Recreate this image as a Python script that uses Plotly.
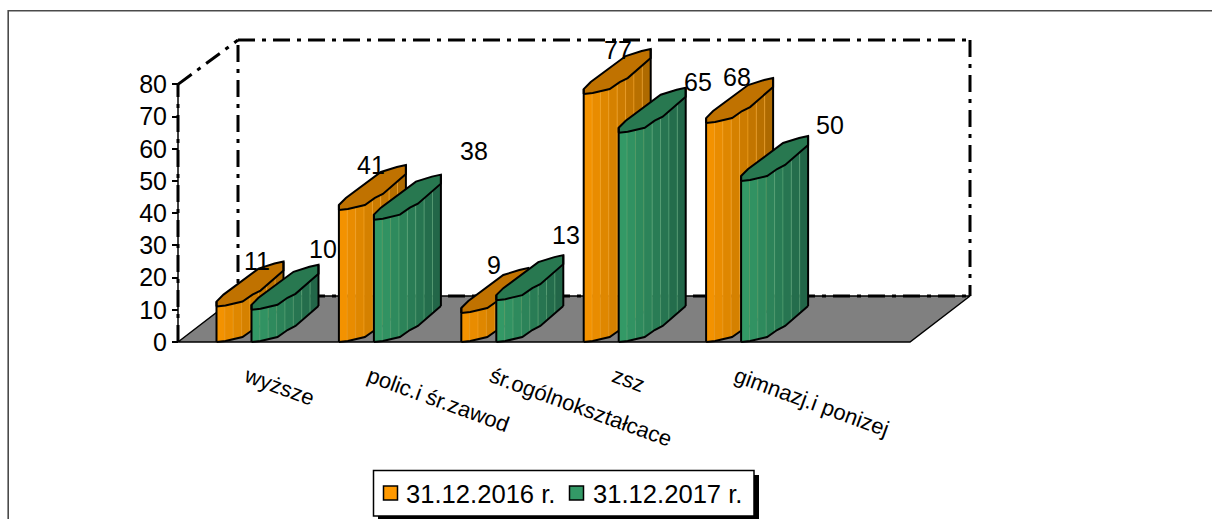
import numpy as np
import plotly.graph_objects as go

categories = ["wyższe", "polic.i śr.zawod", "śr.ogólnokształcace", "zsz", "gimnazj.i ponizej"]
series_names = ["31.12.2016 r.", "31.12.2017 r."]
values_2016 = [11, 41, 9, 77, 68]
values_2017 = [10, 38, 13, 65, 50]
y_ticks = [0, 10, 20, 30, 40, 50, 60, 70, 80]

# --- layout geometry (pixels) ---
W, H = 1212, 519
LEFT, RIGHT, TOP, FLOOR = 178, 970, 40, 342
PAD = 5  # room round the chart box so that its edge lines are not clipped
FRONT_RIGHT = 910
DEPTH_X, DEPTH_Y = 60, 46
CAT_PX = 122.4
COL0_PX = 216.5
VAL_PX = 3.22
SERIES_SHIFT = 35
COL_W = 67
# oblique projection of the column's cross-section (pixels)
front_u = np.array([0, 9, 26, 36, 44, 59, 67])
front_v = np.array([0, 1, 5, 12, 16, 29, 36])
back_u = np.array([67, 58, 42, 25, 7, 0])
back_v = np.array([45, 43, 38, 25, 12, 5])
STRIPES = 8

x_min = (LEFT - COL0_PX) / CAT_PX
x_max = (RIGHT - COL0_PX) / CAT_PX
y_max = (FLOOR - TOP) / VAL_PX


def dx(px):
    return px / CAT_PX


def dy(px):
    return px / VAL_PX


def left_x(px):
    return x_min + dx(px - LEFT)


def lerp(c1, c2, t):
    return "rgb(%d,%d,%d)" % tuple(round(a + (b - a) * t) for a, b in zip(c1, c2))


PLOT_W = RIGHT - LEFT + 2 * PAD
PLOT_H = FLOOR - TOP + 2 * PAD


def px_x(px):
    return (px - (LEFT - PAD)) / PLOT_W


def px_y(py):
    return (FLOOR + PAD - py) / PLOT_H


fig = go.Figure()


def poly(xs, ys, fill, line="black", width=2):
    fig.add_trace(go.Scatter(x=list(xs), y=list(ys), mode="lines", fill="toself" if fill else None,
                             fillcolor=fill, line=dict(color=line, width=width),
                             hoverinfo="skip", showlegend=False))


def dashed(xs, ys, width=3):
    fig.add_trace(go.Scatter(x=list(xs), y=list(ys), mode="lines",
                             line=dict(color="black", width=width, dash="17px,7px,4px,7px"),
                             hoverinfo="skip", showlegend=False))


# back wall, dash-dot
dashed([left_x(LEFT + DEPTH_X)] * 2, [0, y_max])
dashed([left_x(LEFT + DEPTH_X), x_max], [y_max, y_max])
dashed([x_max, x_max], [y_max, dy(DEPTH_Y)])
dashed([x_min, left_x(LEFT + DEPTH_X)], [80, y_max])

# floor
poly([x_min, left_x(FRONT_RIGHT), x_max, left_x(LEFT + DEPTH_X), x_min],
     [0, 0, dy(DEPTH_Y), dy(DEPTH_Y), 0], "#808080", width=1.5)
dashed([left_x(LEFT + DEPTH_X), x_max], [dy(DEPTH_Y), dy(DEPTH_Y)])

# value axis line
poly([x_min, x_min], [0, 80], None, width=1.5)
dashed([x_min, x_min], [0, 80])


def column(i, val, shift, side_a, side_b, top):
    x0 = i + dx(shift)
    us = np.linspace(0, COL_W, STRIPES + 1)
    vs = np.interp(us, front_u, front_v)
    # curved side made of vertical stripes
    for k in range(STRIPES):
        t = k / (STRIPES - 1)
        xa, xb = x0 + dx(us[k]), x0 + dx(us[k + 1])
        ya, yb = dy(vs[k]), dy(vs[k + 1])
        poly([xa, xb, xb, xa, xa], [ya, yb, yb + val, ya + val, ya],
             lerp(side_a, side_b, t), line=lerp(side_a, (255, 225, 180), 0.2), width=0.5)
    # top cap
    cap_x = np.concatenate([front_u, back_u, front_u[:1]])
    cap_y = np.concatenate([front_v, back_v, front_v[:1]])
    poly(x0 + dx(cap_x), val + dy(cap_y), top)
    # outline of the base and the vertical edges
    poly(x0 + dx(front_u), dy(front_v), None)
    poly([x0, x0], [0, val + dy(back_v[-1])], None)
    poly([x0 + dx(COL_W)] * 2, [dy(front_v[-1]), val + dy(back_v[0])], None)


ORANGE = ((243, 146, 0), (174, 106, 0), "#C07200")
GREEN = ((51, 153, 102), (34, 102, 72), "#287850")
for i in range(len(categories)):
    column(i, values_2016[i], 0, *ORANGE)
    column(i, values_2017[i], SERIES_SHIFT, *GREEN)

# value labels, hand placed in the original
label_shift_2016 = [(40, 46), (32, 45), (33, 48), (34, 44), (31, 46)]
label_shift_2017 = [(71, 61), (100, 69), (70, 65), (79, 51), (89, 56)]
annotations = []
for vals, shifts, base in ((values_2016, label_shift_2016, 0), (values_2017, label_shift_2017, SERIES_SHIFT)):
    for i, (v, (sx, sy)) in enumerate(zip(vals, shifts)):
        annotations.append(dict(x=i + dx(base), y=v, text=str(v), showarrow=False, xshift=sx, yshift=sy,
                                font=dict(size=25, color="black", family="Liberation Sans")))

shapes = [
    # outer frame: left and top edges only
    dict(type="path", xref="paper", yref="paper", layer="below",
         path="M %f %f L %f %f L %f %f" % (px_x(8.2), px_y(H + 5), px_x(8.2), px_y(10.8),
                                            px_x(W + 5), px_y(10.8)),
         line=dict(color="#4a4a4a", width=1.6)),
    # legend drop shadow and box
    dict(type="rect", xref="paper", yref="paper", layer="below",
         x0=px_x(378), x1=px_x(759), y0=px_y(519), y1=px_y(475),
         fillcolor="black", line=dict(width=0)),
    dict(type="rect", xref="paper", yref="paper", layer="below",
         x0=px_x(373.5), x1=px_x(754), y0=px_y(516), y1=px_y(470.5),
         fillcolor="white", line=dict(color="black", width=1.5)),
]
# legend entries
for name, colour, sw, tx in zip(series_names, ["#FF9900", "#339966"], [383.5, 569.5], [404, 591]):
    shapes.append(dict(type="rect", xref="paper", yref="paper",
                       x0=px_x(sw), x1=px_x(sw + 14), y0=px_y(500), y1=px_y(486),
                       fillcolor=colour, line=dict(color="black", width=1.5)))
    annotations.append(dict(xref="paper", yref="paper", x=px_x(tx), y=px_y(494), text=name,
                            xanchor="left", yanchor="middle", showarrow=False,
                            font=dict(size=25.6, color="black", family="Liberation Sans")))

fig.update_layout(
    width=W, height=H, autosize=False,
    margin=dict(l=LEFT - PAD, r=W - RIGHT - PAD, t=TOP - PAD, b=H - FLOOR - PAD, pad=0, autoexpand=False),
    paper_bgcolor="white", plot_bgcolor="rgba(0,0,0,0)",
    font=dict(family="Liberation Sans", color="black"),
    hovermode=False, showlegend=False,
    xaxis=dict(range=[x_min - dx(PAD), x_max + dx(PAD)], showgrid=False, zeroline=False, showline=False,
               anchor="free", position=px_y(FLOOR),
               tickmode="array", tickvals=[i + dx(30.5) for i in range(len(categories))],
               ticktext=categories, tickangle=20, ticks="", ticklabelstandoff=17, automargin=False,
               tickfont=dict(size=22, family="Liberation Sans")),
    yaxis=dict(range=[-dy(PAD), y_max + dy(PAD)], showgrid=False, zeroline=False, showline=False,
               anchor="free", position=px_x(LEFT),
               tickmode="array", tickvals=y_ticks, ticks="outside", ticklen=6, tickwidth=1.5,
               tickcolor="black", automargin=False, tickfont=dict(size=25, family="Liberation Sans")),
    shapes=shapes, annotations=annotations,
)

fig.write_html("out.html", config=dict(displayModeBar=False),
               post_script="document.body.style.margin='0';document.body.style.overflow='hidden';")
